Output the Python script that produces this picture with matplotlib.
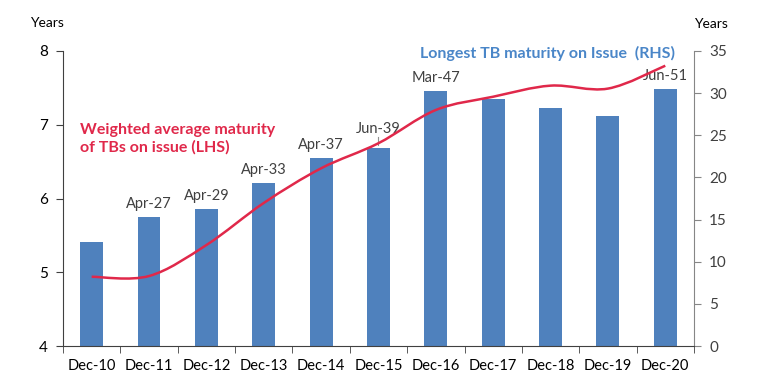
import matplotlib.pyplot as plt
from matplotlib.path import Path
from matplotlib.patches import PathPatch
import numpy as np

plt.rcParams['font.family'] = ['Lato', 'DejaVu Sans']

# data
periods = ['Dec-10', 'Dec-11', 'Dec-12', 'Dec-13', 'Dec-14', 'Dec-15',
           'Dec-16', 'Dec-17', 'Dec-18', 'Dec-19', 'Dec-20']
longest_tb = [12.3, 15.3, 16.3, 19.3, 22.3, 23.5, 30.25, 29.25, 28.25, 27.25, 30.5]
longest_lbl = ['', 'Apr-27', 'Apr-29', 'Apr-33', 'Apr-37', 'Jun-39',
               'Mar-47', '', '', '', 'Jun-51']
wam = [4.94, 4.95, 5.37, 5.94, 6.41, 6.75, 7.20, 7.38, 7.53, 7.49, 7.80]

bar_col = '#4F81BD'
line_col = '#E0284A'
txt_col = '#404040'

fig = plt.figure(figsize=(7.68, 3.92), dpi=100)
axb = fig.add_axes([0.082, 0.117, 0.8216, 0.753])
axl = axb.twinx()
x = np.arange(len(periods))

# bars on the right hand scale
axb.bar(x, longest_tb, width=0.4, color=bar_col, zorder=2)
axb.set_ylim(0, 35)
axb.set_xlim(-0.5, len(periods) - 0.5)
axb.yaxis.tick_right()
axb.set_yticks(range(0, 36, 5))
axb.tick_params(axis='y', direction='out', length=5, color='#868686',
                labelsize=11, labelcolor=txt_col, pad=6)
for i, lbl in enumerate(longest_lbl):
    if lbl:
        off = 1.4 if lbl == 'Jun-39' else 0.7
        axb.text(x[i], longest_tb[i] + off, lbl, ha='center', va='bottom',
                 fontsize=10.5, color=txt_col)
axb.plot([5, 5], [longest_tb[5] + 0.3, longest_tb[5] + 1.3], color='#909090', lw=0.8)

axb.set_xticks(x)
axb.set_xticklabels(periods)
axb.set_xticks(np.arange(-0.5, len(periods)), minor=True)
axb.tick_params(axis='x', which='major', length=0, labelsize=10.5,
                labelcolor='black', pad=9)
axb.tick_params(axis='x', which='minor', length=5, direction='out', color='#404040')
for s in ['top', 'left']:
    axb.spines[s].set_visible(False)
axb.spines['right'].set_color('#868686')
axb.spines['bottom'].set_color('#404040')

# smoothed line on the left hand scale
axl.yaxis.tick_left()
axl.set_ylim(4, 8)
axl.set_yticks(range(4, 9))
axl.tick_params(axis='y', direction='out', length=5, color='#404040',
                labelsize=11, labelcolor='black', pad=6)
for s in ['top', 'right', 'bottom']:
    axl.spines[s].set_visible(False)
axl.spines['left'].set_color('#404040')

pts = np.column_stack([x, wam]).astype(float)
ext = np.vstack([pts[0], pts, pts[-1]])
verts = [tuple(pts[0])]
codes = [Path.MOVETO]
for i in range(len(pts) - 1):
    p0, p1, p2, p3 = ext[i], ext[i + 1], ext[i + 2], ext[i + 3]
    verts += [tuple(p1 + (p2 - p0) / 6), tuple(p2 - (p3 - p1) / 6), tuple(p2)]
    codes += [Path.CURVE4] * 3
axl.add_patch(PathPatch(Path(verts, codes), fill=False, edgecolor=line_col, lw=1.8, zorder=3))

fig.text(47 / 768, 1 - 23 / 392, 'Years', ha='center', va='center', fontsize=10)
fig.text(711 / 768, 1 - 24 / 392, 'Years', ha='center', va='center', fontsize=10)
fig.text(80 / 768, 1 - 139 / 392, 'Weighted average maturity\nof TBs on issue (LHS)',
         ha='left', va='center', fontsize=11.5, fontweight='bold', color=line_col,
         linespacing=1.25)
fig.text(675 / 768, 1 - 53 / 392, 'Longest TB maturity on Issue  (RHS)',
         ha='right', va='center', fontsize=11.5, fontweight='bold', color='#4A86C8')

fig.savefig('out.png', dpi=100)
